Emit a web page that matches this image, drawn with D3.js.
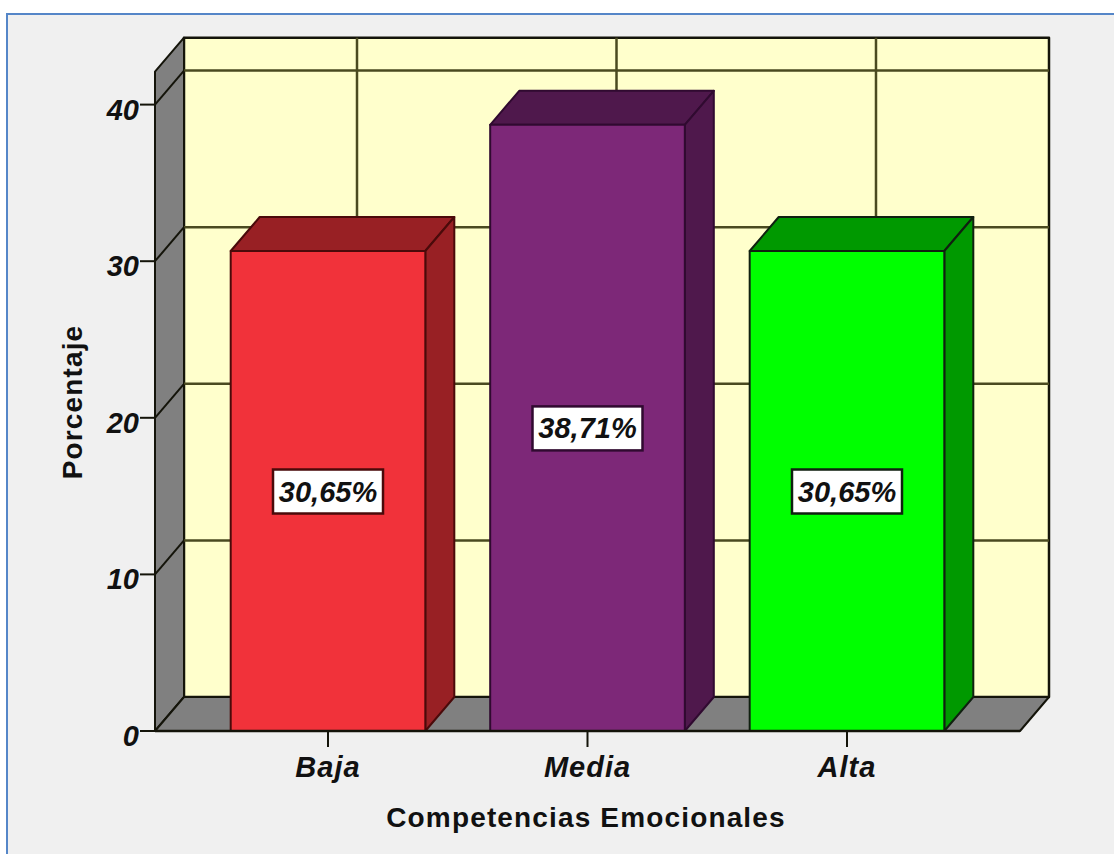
<!DOCTYPE html>
<html>
<head>
<meta charset="utf-8">
<script src="https://cdn.jsdelivr.net/npm/d3@7"></script>
<style>
  html, body { margin: 0; padding: 0; background: #fff; }
  svg { display: block; }
  text { font-family: "Liberation Sans", Arial, sans-serif; fill: #111; }
</style>
</head>
<body>
<svg id="chart" width="1114" height="854"></svg>
<script>
const categories = ["Baja", "Media", "Alta"];
const percentages = [30.65, 38.71, 30.65];
const valueLabels = ["30,65%", "38,71%", "30,65%"];
const frontColors = ["#f1323a", "#7d2878", "#00ff00"];
const sideColors = ["#982024", "#4f184c", "#009900"];
const edgeColors = ["#4a0a0a", "#300a30", "#102010"];
const yTicks = [0, 10, 20, 30, 40];
const xTitle = "Competencias Emocionales";
const yTitle = "Porcentaje";

const svg = d3.select("#chart");

// Front plane of the 3D box, plus the depth offset of the back wall.
const left = 155, right = 1020, base = 731;
const depthX = 29, depthY = -34;
const y = d3.scaleLinear().domain([0, 42.1]).range([base, base - 42.1 * 15.66]);
const x = d3.scaleBand().domain(categories).range([left, right])
  .paddingInner(0.25).paddingOuter(0.2917);
const yTop = y.range()[1];
const ink = "#14140a";
const gridInk = "#4a4a20";
const labelFont = "italic bold 29px 'Liberation Sans'";
const titleFont = "bold 28px 'Liberation Sans'";

// Window panel behind the chart
svg.append("rect").attr("x", 7).attr("y", 14).attr("width", 1120).attr("height", 860)
  .attr("fill", "#f0f0f0").attr("stroke", "#5586c8").attr("stroke-width", 2);

const poly = (pts, fill, stroke = ink, w = 2) => svg.append("polygon")
  .attr("points", pts.map(p => p.join(",")).join(" "))
  .attr("fill", fill).attr("stroke", stroke).attr("stroke-width", w)
  .attr("stroke-linejoin", "round");
const line = (x1, y1, x2, y2, stroke = ink, w = 2) => svg.append("line")
  .attr("x1", x1).attr("y1", y1).attr("x2", x2).attr("y2", y2)
  .attr("stroke", stroke).attr("stroke-width", w);

// Back wall, side wall and floor
poly([[left + depthX, yTop + depthY], [right + depthX, yTop + depthY],
      [right + depthX, base + depthY], [left + depthX, base + depthY]], "#ffffcc", ink, 2.5);
poly([[left, yTop], [left + depthX, yTop + depthY],
      [left + depthX, base + depthY], [left, base]], "#808080");
poly([[left, base], [left + depthX, base + depthY],
      [right + depthX, base + depthY], [right, base]], "#808080");

// Gridlines on the back wall and their continuation across the side wall
yTicks.filter(t => t > 0).forEach(t => {
  line(left + depthX, y(t) + depthY, right + depthX, y(t) + depthY, gridInk, 2.5);
  line(left, y(t), left + depthX, y(t) + depthY, ink);
});
categories.forEach(c => {
  const cx = x(c) + x.bandwidth() / 2 + depthX;
  line(cx, yTop + depthY, cx, base + depthY, gridInk, 2.5);
});

// Bars: top and side faces first, front face on top
categories.forEach((c, i) => {
  const x0 = x(c), x1 = x0 + x.bandwidth(), top = y(percentages[i]);
  poly([[x0, top], [x0 + depthX, top + depthY], [x1 + depthX, top + depthY], [x1, top]], sideColors[i], edgeColors[i]);
  poly([[x1, top], [x1 + depthX, top + depthY], [x1 + depthX, base + depthY], [x1, base]], sideColors[i], edgeColors[i]);
  poly([[x0, top], [x1, top], [x1, base], [x0, base]], frontColors[i], edgeColors[i]);
});

// Axis baselines and ticks
line(left, base, right, base, ink, 2.5);
yTicks.forEach(t => {
  line(left - 15, y(t), left, y(t), ink);
  svg.append("text").attr("x", left - 16).attr("y", y(t) + 15)
    .attr("text-anchor", "end")
    .style("font", labelFont).text(t);
});
categories.forEach(c => {
  const cx = x(c) + x.bandwidth() / 2;
  line(cx, base, cx, base + 16, ink);
  svg.append("text").attr("x", cx).attr("y", base + 46)
    .attr("text-anchor", "middle")
    .style("font", labelFont).style("letter-spacing", "1px").text(c);
});

// Value labels in the middle of each front face
categories.forEach((c, i) => {
  const cx = x(c) + x.bandwidth() / 2, cy = y(percentages[i] / 2);
  svg.append("rect").attr("x", cx - 55).attr("y", cy - 21.5).attr("width", 110).attr("height", 44)
    .attr("fill", "#fff").attr("stroke", edgeColors[i]).attr("stroke-width", 2.5);
  svg.append("text").attr("x", cx).attr("y", cy + 10.5).attr("text-anchor", "middle")
    .style("font", labelFont).text(valueLabels[i]);
});

// Axis titles
svg.append("text").attr("x", 586).attr("y", 827).attr("text-anchor", "middle")
  .style("font", titleFont).style("letter-spacing", "1.15px").text(xTitle);
svg.append("text").attr("transform", "translate(82,402) rotate(-90)").attr("text-anchor", "middle")
  .style("font", titleFont).style("letter-spacing", "1.15px").text(yTitle);
</script>
</body>
</html>
